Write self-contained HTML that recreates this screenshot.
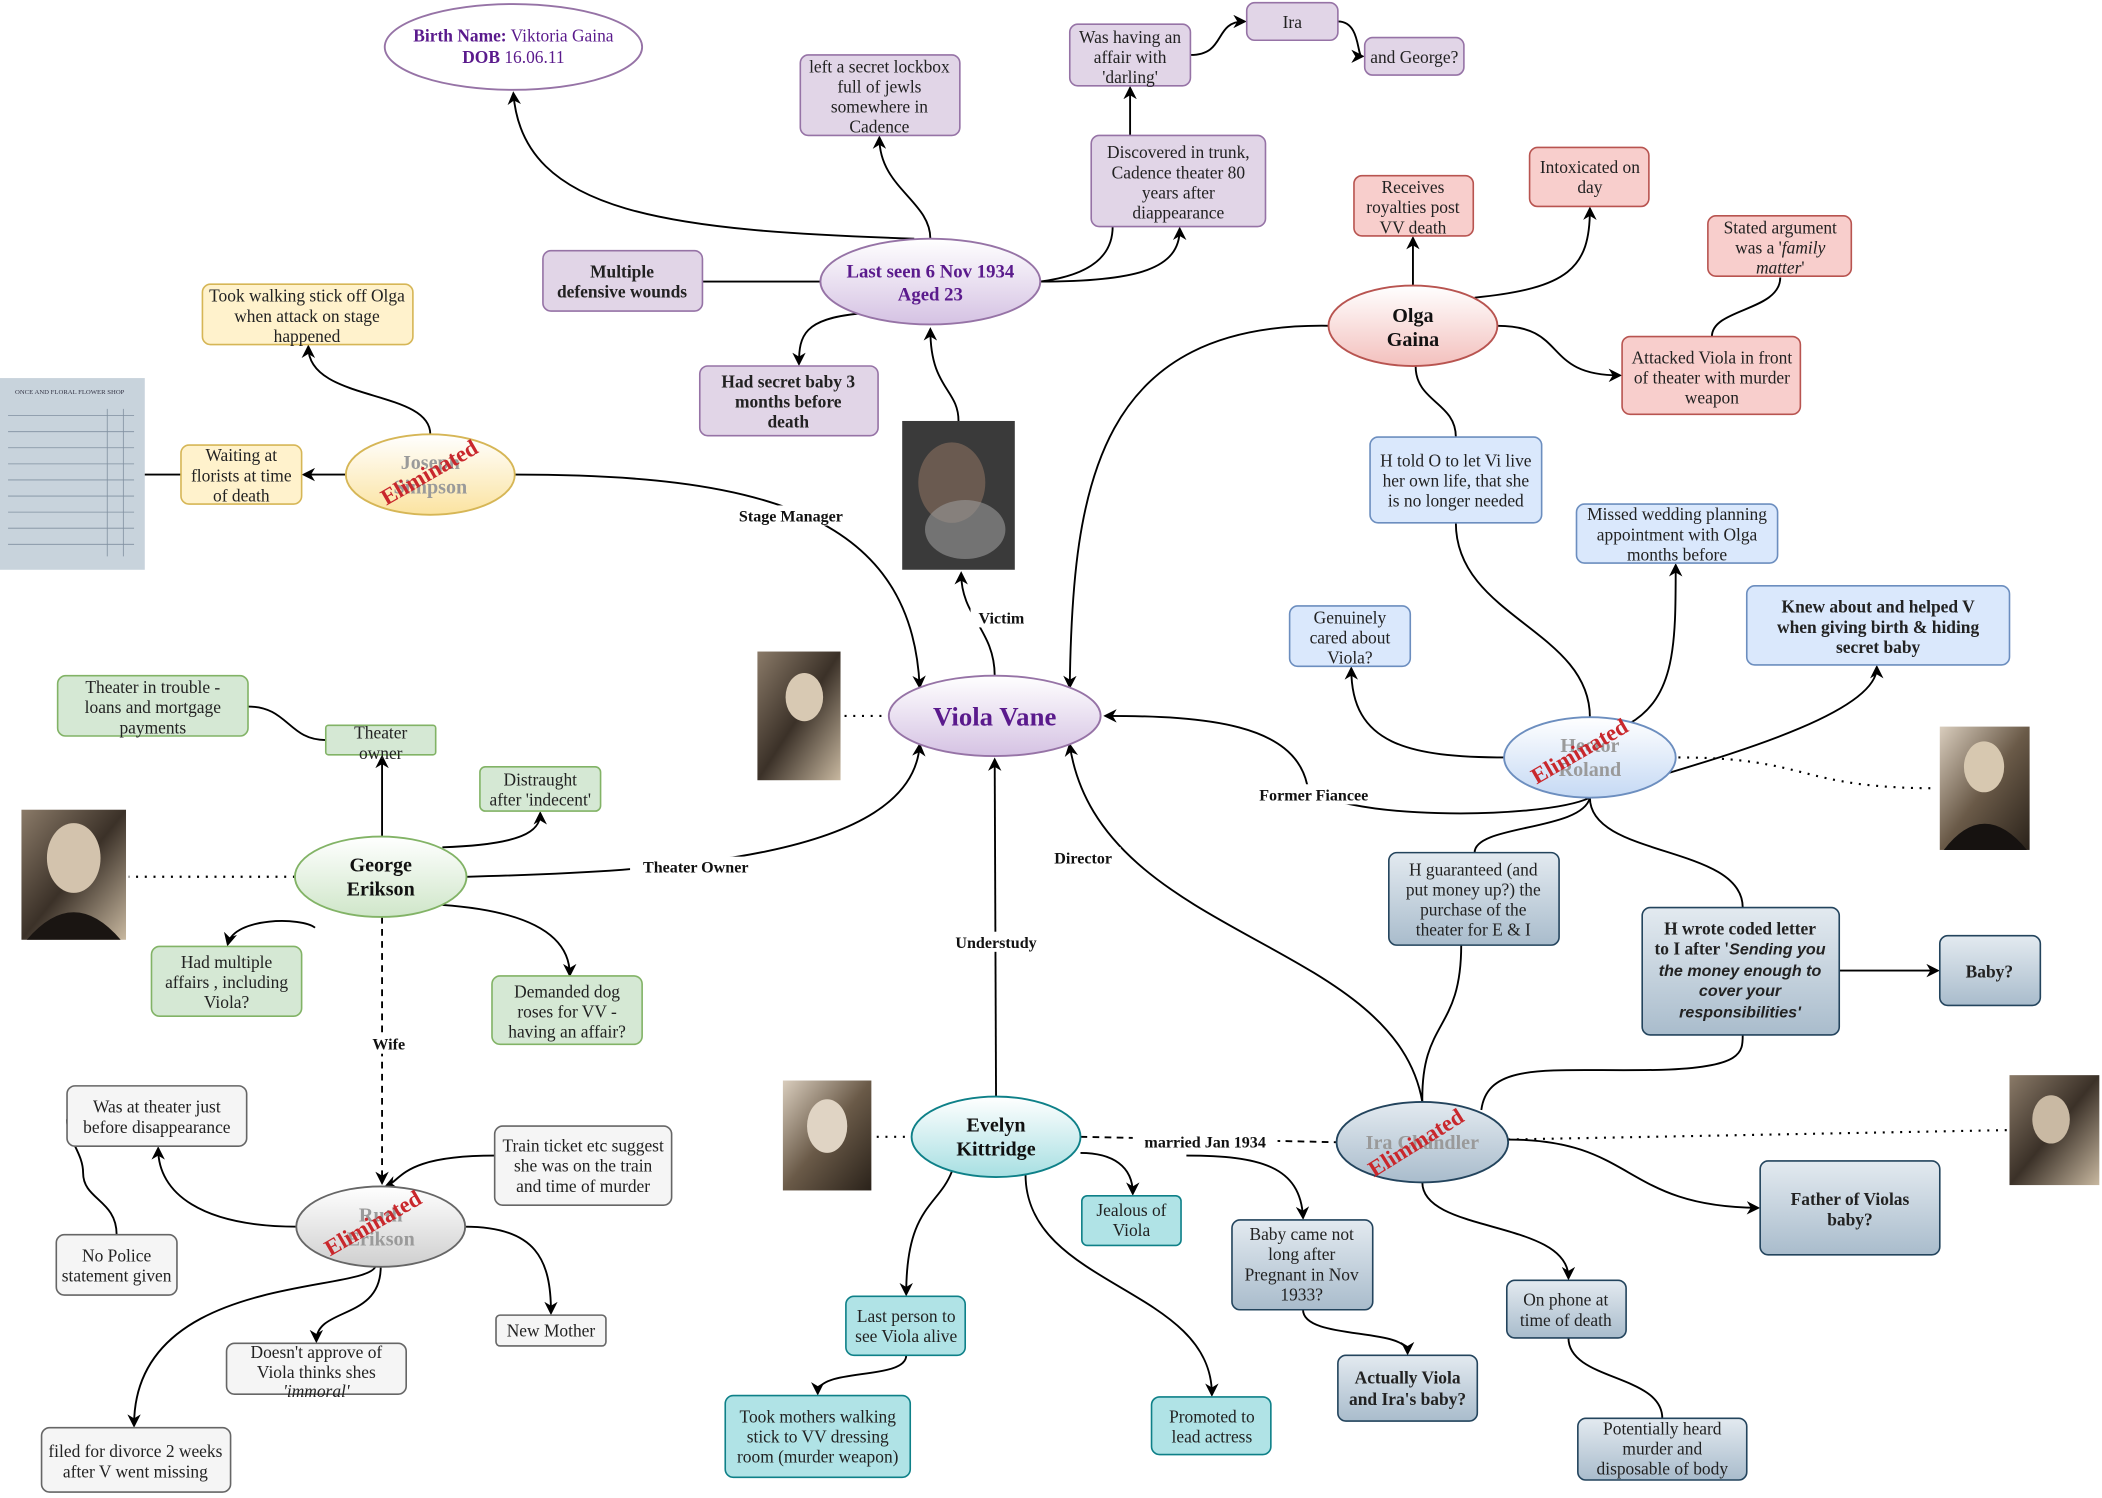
<!DOCTYPE html>
<html><head><meta charset="utf-8">
<style>
html,body{margin:0;padding:0;background:#fff;}
svg{display:block;}
text{font-family:"Liberation Serif",serif;font-size:13px;fill:#222;}
.b{font-weight:bold;}
.el{font-weight:bold;font-size:15px;fill:#111;}
.gh{font-weight:bold;font-size:15px;fill:#9a9a9a;}
.st{font-weight:bold;font-size:17px;fill:#c9272c;}
.lbl{font-weight:bold;font-size:12px;fill:#111;}
.e{fill:none;stroke:#000;stroke-width:1.4;}
.ea{fill:none;stroke:#000;stroke-width:1.4;marker-end:url(#ar);}
.dot{fill:none;stroke:#000;stroke-width:1.6;stroke-dasharray:1.5 5;}
.dash{fill:none;stroke:#000;stroke-width:1.4;stroke-dasharray:5 4;}
</style></head><body>
<svg width="2102" height="1498" viewBox="0 0 1568 1117.4" xmlns="http://www.w3.org/2000/svg">
<defs>
<marker id="ar" markerWidth="10" markerHeight="10" refX="8" refY="5" orient="auto" markerUnits="userSpaceOnUse"><path d="M0,0 L10,5 L0,10 L3,5 z" fill="#000"/></marker>
<linearGradient id="gp" x1="0" y1="0" x2="0" y2="1"><stop offset="0" stop-color="#fff"/><stop offset="1" stop-color="#d5c2e3"/></linearGradient>
<linearGradient id="gr" x1="0" y1="0" x2="0" y2="1"><stop offset="0" stop-color="#fff"/><stop offset="1" stop-color="#f3c0bd"/></linearGradient>
<linearGradient id="gb" x1="0" y1="0" x2="0" y2="1"><stop offset="0" stop-color="#fff"/><stop offset="1" stop-color="#c5d9f4"/></linearGradient>
<linearGradient id="gs" x1="0" y1="0" x2="0" y2="1"><stop offset="0" stop-color="#e3eaf0"/><stop offset="1" stop-color="#a9bccc"/></linearGradient>
<linearGradient id="gy" x1="0" y1="0" x2="0" y2="1"><stop offset="0" stop-color="#fff"/><stop offset="1" stop-color="#fbe3a0"/></linearGradient>
<linearGradient id="gg" x1="0" y1="0" x2="0" y2="1"><stop offset="0" stop-color="#fff"/><stop offset="1" stop-color="#cfe6c9"/></linearGradient>
<linearGradient id="gw" x1="0" y1="0" x2="0" y2="1"><stop offset="0" stop-color="#fff"/><stop offset="1" stop-color="#cfcfcf"/></linearGradient>
<linearGradient id="gt" x1="0" y1="0" x2="0" y2="1"><stop offset="0" stop-color="#fff"/><stop offset="1" stop-color="#a7dfe2"/></linearGradient>
<linearGradient id="sep" x1="0" y1="0" x2="1" y2="1"><stop offset="0" stop-color="#8a7a68"/><stop offset="0.5" stop-color="#3b3128"/><stop offset="1" stop-color="#c8b8a0"/></linearGradient>
<linearGradient id="sep2" x1="0" y1="0" x2="1" y2="1"><stop offset="0" stop-color="#d9cdbd"/><stop offset="0.5" stop-color="#6a5a48"/><stop offset="1" stop-color="#2a221a"/></linearGradient>
</defs>

<!-- photos -->
<rect x="0" y="282" width="108" height="143" fill="#c8d3dc"/>
<g stroke="#8090a0" stroke-width="0.6">
<line x1="6" y1="310" x2="100" y2="310"/><line x1="6" y1="322" x2="100" y2="322"/><line x1="6" y1="334" x2="100" y2="334"/><line x1="6" y1="346" x2="100" y2="346"/><line x1="6" y1="358" x2="100" y2="358"/><line x1="6" y1="370" x2="100" y2="370"/><line x1="6" y1="382" x2="100" y2="382"/><line x1="6" y1="394" x2="100" y2="394"/><line x1="6" y1="406" x2="100" y2="406"/><line x1="80" y1="305" x2="80" y2="415"/><line x1="92" y1="305" x2="92" y2="415"/></g>
<text x="52" y="294" text-anchor="middle" style="font-size:5px;fill:#334">ONCE AND FLORAL FLOWER SHOP</text>
<rect x="673" y="314" width="84" height="111" fill="#3a3a3a"/>
<ellipse cx="710" cy="360" rx="25" ry="30" fill="#6a5a50"/><ellipse cx="720" cy="395" rx="30" ry="22" fill="#9a9a9a" opacity="0.6"/>
<rect x="565" y="486" width="62" height="96" fill="url(#sep)"/><ellipse cx="600" cy="520" rx="14" ry="18" fill="#d8c9b3"/>
<rect x="16" y="604" width="78" height="97" fill="url(#sep)"/><ellipse cx="55" cy="640" rx="20" ry="26" fill="#d3c3ad"/><path d="M20 701 Q55 660 90 701z" fill="#1a1512"/>
<rect x="1447" y="542" width="67" height="92" fill="url(#sep2)"/><ellipse cx="1480" cy="572" rx="15" ry="19" fill="#d7c8b0"/><path d="M1450 634 Q1480 595 1512 634z" fill="#161210"/>
<rect x="584" y="806" width="66" height="82" fill="url(#sep2)"/><ellipse cx="617" cy="840" rx="15" ry="20" fill="#e0d4c4"/>
<rect x="1499" y="802" width="67" height="82" fill="url(#sep)"/><ellipse cx="1530" cy="835" rx="14" ry="18" fill="#c9b9a3"/>

<!-- edges -->
<path class="ea" d="M682 178 C500 172,390 160,383 70"/>
<path class="ea" d="M694 178 C694 150,656 140,656 103"/>
<path class="e" d="M776 210 C815 205,830 190,830 169"/>
<path class="ea" d="M776 210 C850 210,880 200,880 171"/>
<path class="ea" d="M843 101 L843 66"/>
<path class="ea" d="M888 41 C915 41,905 16,928 16"/>
<path class="ea" d="M998 16 C1015 16,1012 42,1016 42"/>
<path class="e" d="M524 210 L612 210"/>
<path class="ea" d="M640 234 C600 238,596 250,596 271"/>
<path class="ea" d="M715 314 C715 290,694 290,694 246"/>
<path class="ea" d="M742 504 C742 470,717 460,717 428"/>
<path class="ea" d="M384 354 C560 354,680 380,686 512"/>
<path class="ea" d="M321 324 C321 290,230 300,230 259"/>
<path class="ea" d="M258 354 L227 354"/>
<path class="e" d="M135 354 L108 354"/>
<path class="ea" d="M348 654 C500 650,680 640,686 556"/>
<path class="ea" d="M285 624 L285 565"/>
<path class="e" d="M243 552 C215 552,215 527,185 527"/>
<path class="ea" d="M330 632 C390 630,403 620,403 607"/>
<path class="ea" d="M235 692 C225 684,175 684,170 704"/>
<path class="ea" d="M330 675 C400 680,425 700,425 727"/>
<path class="dot" d="M220 654 L96 654"/>
<path class="dash" d="M285 684 L285 882" marker-end="url(#ar)"/>
<path class="ea" d="M222 915 C150 915,118 890,118 857"/>
<path class="e" d="M87 921 C87 895,62 895,62 875 C62 860,50 850,50 835"/>
<path class="ea" d="M369 862 C300 862,300 880,288 885"/>
<path class="ea" d="M347 915 C400 915,411 940,411 979"/>
<path class="ea" d="M284 945 C284 985,236 975,236 1000"/>
<path class="ea" d="M280 945 C270 965,100 950,100 1063"/>
<path class="dot" d="M630 534 L662 534"/>
<path class="ea" d="M743 818 L742 567"/>
<path class="dot" d="M654 848 L680 848"/>
<path class="dash" d="M806 848 L997 852"/>
<path class="ea" d="M806 860 C830 860,845 870,845 890"/>
<path class="ea" d="M710 874 C700 900,676 900,676 965"/>
<path class="ea" d="M676 1011 C676 1030,610 1020,610 1039"/>
<path class="ea" d="M765 876 C765 960,904 960,904 1040"/>
<path class="ea" d="M885 862 C940 862,970 870,972 908"/>
<path class="ea" d="M972 977 C972 1000,1050 990,1050 1009"/>
<path class="ea" d="M1061 822 C1040 700,820 700,798 556"/>
<path class="e" d="M1061 822 C1060 760,1090 770,1090 705"/>
<path class="e" d="M1105 828 C1110 790,1160 800,1240 798 C1300 796,1300 785,1300 772"/>
<path class="ea" d="M1372 724 L1445 724"/>
<path class="ea" d="M1125 850 C1220 850,1210 900,1311 901"/>
<path class="ea" d="M1061 882 C1061 920,1170 910,1170 953"/>
<path class="e" d="M1170 998 C1170 1030,1240 1025,1240 1058"/>
<path class="dot" d="M1125 850 L1497 843"/>
<path class="ea" d="M1186 595 C1150 612,990 612,975 585 C965 540,900 534,825 534"/>
<path class="e" d="M1186 595 C1180 620,1100 615,1100 636"/>
<path class="e" d="M1186 595 C1186 640,1300 630,1300 677"/>
<path class="ea" d="M1124 565 C1050 565,1008 555,1008 499"/>
<path class="ea" d="M1215 540 C1250 520,1250 480,1250 422"/>
<path class="ea" d="M1240 578 C1300 560,1400 530,1400 498"/>
<path class="dot" d="M1252 565 C1350 565,1340 588,1445 588"/>
<path class="e" d="M1186 535 C1186 470,1086 460,1086 390"/>
<path class="e" d="M1086 326 C1086 300,1056 300,1056 273"/>
<path class="ea" d="M992 243 C820 240,800 360,798 512"/>
<path class="ea" d="M1054 213 L1054 178"/>
<path class="ea" d="M1100 222 C1170 215,1186 200,1186 156"/>
<path class="ea" d="M1117 243 C1170 243,1150 280,1208 280"/>
<path class="e" d="M1277 251 C1277 230,1328 232,1328 207"/>

<!-- edge labels -->
<g>
<rect x="540" y="377" width="100" height="15" fill="#fff"/><text class="lbl" x="590" y="389" text-anchor="middle">Stage Manager</text>
<rect x="724" y="453" width="46" height="15" fill="#fff"/><text class="lbl" x="747" y="465" text-anchor="middle">Victim</text>
<rect x="470" y="639" width="98" height="15" fill="#fff"/><text class="lbl" x="519" y="651" text-anchor="middle">Theater Owner</text>
<rect x="780" y="632" width="56" height="15" fill="#fff"/><text class="lbl" x="808" y="644" text-anchor="middle">Director</text>
<rect x="705" y="695" width="76" height="15" fill="#fff"/><text class="lbl" x="743" y="707" text-anchor="middle">Understudy</text>
<rect x="275" y="771" width="30" height="15" fill="#fff"/><text class="lbl" x="290" y="783" text-anchor="middle">Wife</text>
<rect x="845" y="844" width="108" height="15" fill="#fff"/><text class="lbl" x="899" y="856" text-anchor="middle">married Jan 1934</text>
<rect x="928" y="585" width="104" height="15" fill="#fff"/><text class="lbl" x="980" y="597" text-anchor="middle">Former Fiancee</text>
</g>

<!-- purple boxes -->
<g fill="#e1d5e7" stroke="#9673a6" stroke-width="1.2">
<rect x="597" y="41" width="119" height="60" rx="6"/>
<rect x="798" y="18" width="90" height="46" rx="6"/>
<rect x="930" y="2" width="68" height="28" rx="6"/>
<rect x="1018" y="28" width="74" height="28" rx="6"/>
<rect x="814" y="101" width="130" height="68" rx="6"/>
<rect x="405" y="187" width="119" height="45" rx="6"/>
<rect x="522" y="273" width="133" height="52" rx="6"/>
</g>
<text text-anchor="middle"><tspan x="656" y="54">left a secret lockbox</tspan><tspan x="656" y="69">full of jewls</tspan><tspan x="656" y="84">somewhere in</tspan><tspan x="656" y="99">Cadence</tspan></text>
<text text-anchor="middle"><tspan x="843" y="32">Was having an</tspan><tspan x="843" y="47">affair with</tspan><tspan x="843" y="62">'darling'</tspan></text>
<text x="964" y="21" text-anchor="middle">Ira</text>
<text x="1055" y="47" text-anchor="middle">and George?</text>
<text text-anchor="middle"><tspan x="879" y="118">Discovered in trunk,</tspan><tspan x="879" y="133">Cadence theater 80</tspan><tspan x="879" y="148">years after</tspan><tspan x="879" y="163">diappearance</tspan></text>
<text class="b" text-anchor="middle"><tspan x="464" y="207">Multiple</tspan><tspan x="464" y="222">defensive wounds</tspan></text>
<text class="b" text-anchor="middle"><tspan x="588" y="289">Had secret baby 3</tspan><tspan x="588" y="304">months before</tspan><tspan x="588" y="319">death</tspan></text>

<ellipse cx="383" cy="35" rx="96" ry="32" fill="#fff" stroke="#9673a6" stroke-width="1.4"/>
<text x="383" y="31" text-anchor="middle" style="fill:#5a1a8c"><tspan class="b">Birth Name:</tspan> Viktoria Gaina</text>
<text x="383" y="47" text-anchor="middle" style="fill:#5a1a8c"><tspan class="b">DOB</tspan> 16.06.11</text>
<ellipse cx="694" cy="210" rx="82" ry="32" fill="url(#gp)" stroke="#9673a6" stroke-width="1.4"/>
<text text-anchor="middle" style="font-weight:bold;font-size:14px;fill:#5a1a8c"><tspan x="694" y="207">Last seen 6 Nov 1934</tspan><tspan x="694" y="224">Aged 23</tspan></text>
<ellipse cx="742" cy="534" rx="79" ry="30" fill="url(#gp)" stroke="#9673a6" stroke-width="1.4"/>
<text x="742" y="541" text-anchor="middle" style="font-weight:bold;font-size:20px;fill:#5a1a8c">Viola Vane</text>

<!-- red -->
<g fill="#f8cecc" stroke="#b85450" stroke-width="1.2">
<rect x="1010" y="131" width="89" height="45" rx="6"/>
<rect x="1141" y="110" width="89" height="44" rx="6"/>
<rect x="1274" y="161" width="107" height="45" rx="6"/>
<rect x="1210" y="251" width="133" height="58" rx="6"/>
</g>
<text text-anchor="middle"><tspan x="1054" y="144">Receives</tspan><tspan x="1054" y="159">royalties post</tspan><tspan x="1054" y="174">VV death</tspan></text>
<text text-anchor="middle"><tspan x="1186" y="129">Intoxicated on</tspan><tspan x="1186" y="144">day</tspan></text>
<text text-anchor="middle"><tspan x="1328" y="174">Stated argument</tspan><tspan x="1328" y="189">was a '<tspan font-style="italic">family</tspan></tspan><tspan x="1328" y="204" font-style="italic">matter</tspan>'</text>
<text text-anchor="middle"><tspan x="1277" y="271">Attacked Viola in front</tspan><tspan x="1277" y="286">of theater with murder</tspan><tspan x="1277" y="301">weapon</tspan></text>
<ellipse cx="1054" cy="243" rx="63" ry="30" fill="url(#gr)" stroke="#b85450" stroke-width="1.4"/>
<text class="el" text-anchor="middle"><tspan x="1054" y="240">Olga</tspan><tspan x="1054" y="258">Gaina</tspan></text>

<!-- blue -->
<g fill="#dae8fc" stroke="#6c8ebf" stroke-width="1.2">
<rect x="1022" y="326" width="128" height="64" rx="6"/>
<rect x="1176" y="376" width="150" height="44" rx="6"/>
<rect x="962" y="452" width="90" height="45" rx="6"/>
<rect x="1303" y="437" width="196" height="59" rx="6"/>
</g>
<text text-anchor="middle"><tspan x="1086" y="348">H told O to let Vi live</tspan><tspan x="1086" y="363">her own life, that she</tspan><tspan x="1086" y="378">is no longer needed</tspan></text>
<text text-anchor="middle"><tspan x="1251" y="388">Missed wedding planning</tspan><tspan x="1251" y="403">appointment with Olga</tspan><tspan x="1251" y="418">months before</tspan></text>
<text text-anchor="middle"><tspan x="1007" y="465">Genuinely</tspan><tspan x="1007" y="480">cared about</tspan><tspan x="1007" y="495">Viola?</tspan></text>
<text class="b" text-anchor="middle"><tspan x="1401" y="457">Knew about and helped V</tspan><tspan x="1401" y="472">when giving birth &amp; hiding</tspan><tspan x="1401" y="487">secret baby</tspan></text>
<ellipse cx="1186" cy="565" rx="64" ry="30" fill="url(#gb)" stroke="#6c8ebf" stroke-width="1.4"/>
<text class="gh" text-anchor="middle"><tspan x="1186" y="561">Hector</tspan><tspan x="1186" y="579">Roland</tspan></text>
<text class="st" x="1178" y="566" text-anchor="middle" transform="rotate(-30 1178 560)">Eliminated</text>

<!-- slate -->
<g fill="url(#gs)" stroke="#23445d" stroke-width="1.2">
<rect x="1036" y="636" width="127" height="69" rx="6"/>
<rect x="1225" y="677" width="147" height="95" rx="6"/>
<rect x="1447" y="698" width="75" height="52" rx="6"/>
<rect x="1313" y="866" width="134" height="70" rx="6"/>
<rect x="919" y="910" width="105" height="67" rx="6"/>
<rect x="998" y="1011" width="104" height="49" rx="6"/>
<rect x="1124" y="955" width="89" height="43" rx="6"/>
<rect x="1177" y="1058" width="126" height="46" rx="6"/>
</g>
<text text-anchor="middle"><tspan x="1099" y="653">H guaranteed (and</tspan><tspan x="1099" y="668">put money up?) the</tspan><tspan x="1099" y="683">purchase of the</tspan><tspan x="1099" y="698">theater for E &amp; I</tspan></text>
<text text-anchor="middle" class="b"><tspan x="1298" y="697">H wrote coded letter</tspan><tspan x="1298" y="712">to I after '<tspan font-style="italic" style="font-family:'Liberation Sans',sans-serif;font-size:12px">Sending you</tspan></tspan></text>
<text text-anchor="middle" style="font-family:'Liberation Sans',sans-serif;font-size:12px;font-weight:bold;font-style:italic"><tspan x="1298" y="728">the money enough to</tspan><tspan x="1298" y="743">cover your</tspan><tspan x="1298" y="759">responsibilities'</tspan></text>
<text class="b" x="1484" y="729" text-anchor="middle">Baby?</text>
<text class="b" text-anchor="middle"><tspan x="1380" y="899">Father of Violas</tspan><tspan x="1380" y="914">baby?</tspan></text>
<text text-anchor="middle"><tspan x="971" y="925">Baby came not</tspan><tspan x="971" y="940">long after</tspan><tspan x="971" y="955">Pregnant in Nov</tspan><tspan x="971" y="970">1933?</tspan></text>
<text class="b" text-anchor="middle"><tspan x="1050" y="1032">Actually Viola</tspan><tspan x="1050" y="1048">and Ira's baby?</tspan></text>
<text text-anchor="middle"><tspan x="1168" y="974">On phone at</tspan><tspan x="1168" y="989">time of death</tspan></text>
<text text-anchor="middle"><tspan x="1240" y="1070">Potentially heard</tspan><tspan x="1240" y="1085">murder and</tspan><tspan x="1240" y="1100">disposable of body</tspan></text>
<ellipse cx="1061" cy="852" rx="64" ry="30" fill="url(#gs)" stroke="#23445d" stroke-width="1.4"/>
<text class="gh" x="1061" y="857" text-anchor="middle">Ira Chandler</text>
<text class="st" x="1056" y="858" text-anchor="middle" transform="rotate(-32 1056 852)">Eliminated</text>

<!-- yellow -->
<g fill="#fff2cc" stroke="#d6b656" stroke-width="1.2">
<rect x="151" y="212" width="157" height="45" rx="6"/>
<rect x="135" y="332" width="90" height="44" rx="6"/>
</g>
<text text-anchor="middle"><tspan x="229" y="225">Took walking stick off Olga</tspan><tspan x="229" y="240">when attack on stage</tspan><tspan x="229" y="255">happened</tspan></text>
<text text-anchor="middle"><tspan x="180" y="344">Waiting at</tspan><tspan x="180" y="359">florists at time</tspan><tspan x="180" y="374">of death</tspan></text>
<ellipse cx="321" cy="354" rx="63" ry="30" fill="url(#gy)" stroke="#d6b656" stroke-width="1.4"/>
<text class="gh" text-anchor="middle"><tspan x="321" y="350">Joseph</tspan><tspan x="321" y="368">Simpson</tspan></text>
<text class="st" x="320" y="358" text-anchor="middle" transform="rotate(-30 320 352)">Eliminated</text>

<!-- green -->
<g fill="#d5e8d4" stroke="#82b366" stroke-width="1.2">
<rect x="43" y="504" width="142" height="45" rx="6"/>
<rect x="243" y="541" width="82" height="22" rx="2"/>
<rect x="358" y="572" width="90" height="33" rx="4"/>
<rect x="113" y="706" width="112" height="52" rx="6"/>
<rect x="367" y="728" width="112" height="51" rx="6"/>
</g>
<text text-anchor="middle"><tspan x="114" y="517">Theater in trouble -</tspan><tspan x="114" y="532">loans and mortgage</tspan><tspan x="114" y="547">payments</tspan></text>
<text text-anchor="middle"><tspan x="284" y="551">Theater</tspan><tspan x="284" y="566">owner</tspan></text>
<text text-anchor="middle"><tspan x="403" y="586">Distraught</tspan><tspan x="403" y="601">after 'indecent'</tspan></text>
<text text-anchor="middle"><tspan x="169" y="722">Had multiple</tspan><tspan x="169" y="737">affairs , including</tspan><tspan x="169" y="752">Viola?</tspan></text>
<text text-anchor="middle"><tspan x="423" y="744">Demanded dog</tspan><tspan x="423" y="759">roses for VV -</tspan><tspan x="423" y="774">having an affair?</tspan></text>
<ellipse cx="284" cy="654" rx="64" ry="30" fill="url(#gg)" stroke="#82b366" stroke-width="1.4"/>
<text class="el" text-anchor="middle"><tspan x="284" y="650">George</tspan><tspan x="284" y="668">Erikson</tspan></text>

<!-- gray -->
<g fill="#f5f5f5" stroke="#666" stroke-width="1.2">
<rect x="50" y="810" width="134" height="45" rx="6"/>
<rect x="369" y="840" width="132" height="59" rx="6"/>
<rect x="42" y="921" width="90" height="45" rx="6"/>
<rect x="370" y="981" width="82" height="23" rx="3"/>
<rect x="169" y="1002" width="134" height="38" rx="6"/>
<rect x="31" y="1065" width="141" height="48" rx="6"/>
</g>
<text text-anchor="middle"><tspan x="117" y="830">Was at theater just</tspan><tspan x="117" y="845">before disappearance</tspan></text>
<text text-anchor="middle"><tspan x="435" y="859">Train ticket etc suggest</tspan><tspan x="435" y="874">she was on the train</tspan><tspan x="435" y="889">and time of murder</tspan></text>
<text text-anchor="middle"><tspan x="87" y="941">No Police</tspan><tspan x="87" y="956">statement given</tspan></text>
<text x="411" y="997" text-anchor="middle">New Mother</text>
<text text-anchor="middle"><tspan x="236" y="1013">Doesn't approve of</tspan><tspan x="236" y="1028">Viola thinks shes</tspan><tspan x="236" y="1042" font-style="italic">'immoral'</tspan></text>
<text text-anchor="middle"><tspan x="101" y="1087">filed for divorce 2 weeks</tspan><tspan x="101" y="1102">after V went missing</tspan></text>
<ellipse cx="284" cy="915" rx="63" ry="30" fill="url(#gw)" stroke="#666" stroke-width="1.4"/>
<text class="gh" text-anchor="middle"><tspan x="284" y="911">Ruth</tspan><tspan x="284" y="929">Erikson</tspan></text>
<text class="st" x="278" y="918" text-anchor="middle" transform="rotate(-30 278 912)">Eliminated</text>

<!-- teal -->
<g fill="#b0e3e6" stroke="#0e8088" stroke-width="1.2">
<rect x="807" y="892" width="74" height="37" rx="4"/>
<rect x="631" y="967" width="89" height="44" rx="6"/>
<rect x="541" y="1041" width="138" height="61" rx="6"/>
<rect x="859" y="1042" width="89" height="43" rx="6"/>
</g>
<text text-anchor="middle"><tspan x="844" y="907">Jealous of</tspan><tspan x="844" y="922">Viola</tspan></text>
<text text-anchor="middle"><tspan x="676" y="986">Last person to</tspan><tspan x="676" y="1001">see Viola alive</tspan></text>
<text text-anchor="middle"><tspan x="610" y="1061">Took mothers walking</tspan><tspan x="610" y="1076">stick to VV dressing</tspan><tspan x="610" y="1091">room (murder weapon)</tspan></text>
<text text-anchor="middle"><tspan x="904" y="1061">Promoted to</tspan><tspan x="904" y="1076">lead actress</tspan></text>
<ellipse cx="743" cy="848" rx="63" ry="30" fill="url(#gt)" stroke="#0e8088" stroke-width="1.4"/>
<text class="el" text-anchor="middle"><tspan x="743" y="844">Evelyn</tspan><tspan x="743" y="862">Kittridge</tspan></text>
</svg>
</body></html>
